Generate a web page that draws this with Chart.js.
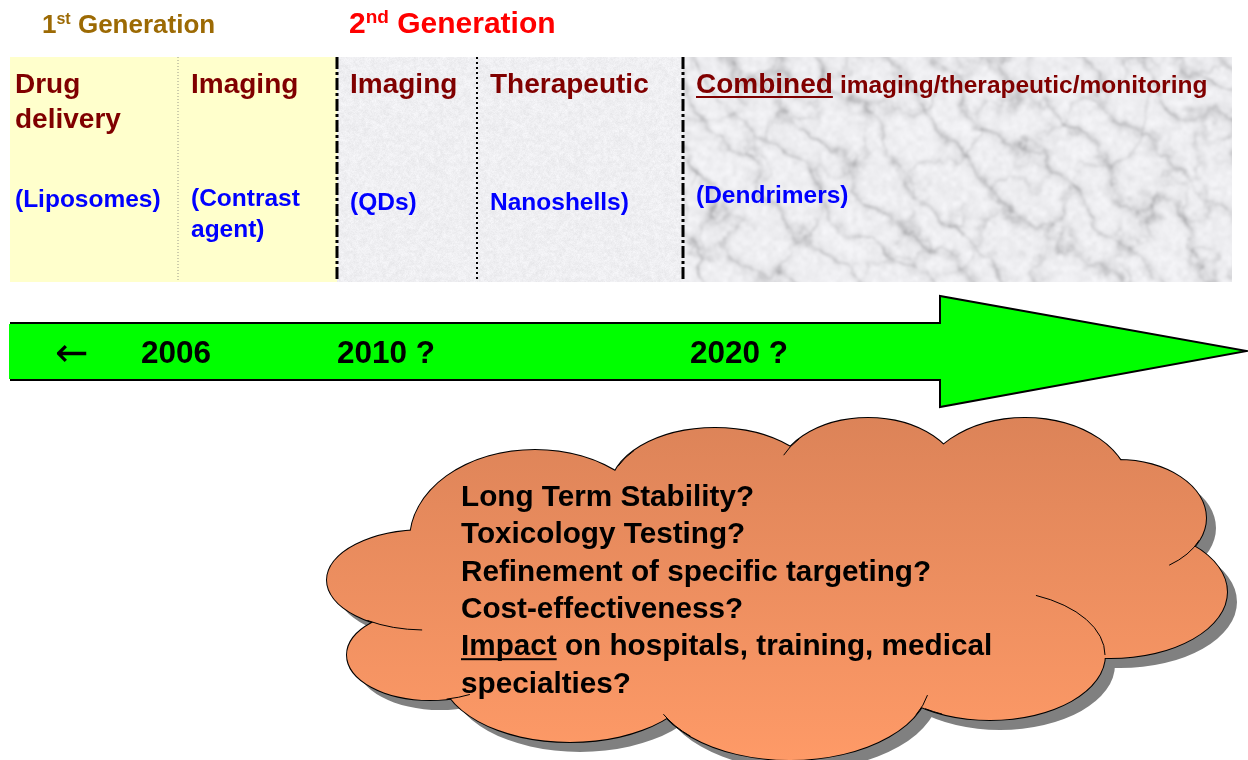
<!DOCTYPE html>
<html>
<head>
<meta charset="utf-8">
<script src="https://cdn.jsdelivr.net/npm/chart.js@4.4.0/dist/chart.umd.min.js"></script>
<style>
  html, body { margin: 0; padding: 0; background: #fff; }
  canvas { display: block; }
</style>
</head>
<body>
<canvas id="timeline" width="1248" height="760"></canvas>
<script>
// ---- data ----
const generations = [['1', 'st'], ['2', 'nd']];
const generationAt = [42, 349];
const stageStart = [10, 178, 337, 477, 683];
const stageEnd = [178, 337, 477, 683, 1232];
const stageTitles = [['Drug', 'delivery'], ['Imaging'], ['Imaging'], ['Therapeutic'], ['Combined']];
const stageExamples = [['(Liposomes)'], ['(Contrast', 'agent)'], ['(QDs)'], ['Nanoshells)'], ['(Dendrimers)']];
const combinedSuffix = 'imaging/therapeutic/monitoring';
const timelineLabels = ['\u2190', '2006', '2010 ?', '2020 ?'];
const timelineAt = [58, 141, 337, 690];
const questions = [
    'Long Term Stability?',
    'Toxicology Testing?',
    'Refinement of specific targeting?',
    'Cost-effectiveness?',
    'Impact on hospitals, training, medical',
    'specialties?'
];

// ---- layout / style ----
const FONT = '"Liberation Sans", Arial, Helvetica, sans-serif';
const panelTop = 57, panelBottom = 282;
const exampleBaseline = [207, 206, 210, 210, 203];
const arrow = { left: 10, top: 323, bottom: 380, headX: 940, headTop: 296, headBottom: 407, tipX: 1247, tipY: 351 };
// cloud lobes: [cx, cy, rx, ry]
const lobes = [
    [535, 540, 125, 90], [715, 490, 105, 62], [868, 480, 92, 62], [1025, 490, 105, 72],
    [1118, 518, 88, 58], [1110, 592, 117, 66], [990, 655, 115, 65], [790, 680, 140, 80],
    [570, 670, 130, 72], [430, 655, 83, 45], [425, 580, 98, 50]
];
const cloudCore = [780, 580, 340, 120];
// little inner arcs of the cloud outline: [lobe index, start angle, end angle]
const innerArcs = [[10, 1.6, 2.2], [9, 1.07, 1.37], [7, 2.36, 2.7], [7, 0.19, 0.45],
    [6, 2.0, 2.17], [6, -1.16, 0], [4, 0.39, 0.95], [2, -2.73, -2.42], [1, -2.75, -2.45]];

function hash(x, y) {
    const h = Math.sin(x * 12.9898 + y * 78.233) * 43758.5453;
    return h - Math.floor(h);
}

function smoothNoise(x, y) {
    const ix = Math.floor(x), iy = Math.floor(y);
    let fx = x - ix, fy = y - iy;
    fx = fx * fx * (3 - 2 * fx);
    fy = fy * fy * (3 - 2 * fy);
    const a = hash(ix, iy), b = hash(ix + 1, iy), c = hash(ix, iy + 1), d = hash(ix + 1, iy + 1);
    return a + (b - a) * fx + (c - a) * fy + (a - b - c + d) * fx * fy;
}

function fbm(x, y) {
    let s = 0, amp = 0.5, f = 1;
    for (let o = 0; o < 5; o++) {
        s += amp * smoothNoise(x * f, y * f);
        amp *= 0.5;
        f *= 2;
    }
    return s;
}

function textureCanvas(w, h, shade) {
    const c = document.createElement('canvas');
    c.width = w; c.height = h;
    const g = c.getContext('2d');
    const img = g.createImageData(w, h);
    for (let y = 0; y < h; y++) {
        for (let x = 0; x < w; x++) {
            const v = Math.max(0, Math.min(255, Math.round(shade(x, y))));
            const i = (y * w + x) * 4;
            img.data[i] = v; img.data[i + 1] = v; img.data[i + 2] = Math.min(255, v + 3); img.data[i + 3] = 255;
        }
    }
    g.putImageData(img, 0, 0);
    return c;
}

const paperShade = (x, y) => 226 + 18 * fbm(x / 3, y / 3) + 8 * hash(x, y);
const marbleShade = (x, y) => {
    const t = (x * 0.7 - y * 0.7) / 45 + 2.2 * fbm(x / 55, y / 55);
    const vein = Math.pow(1 - Math.abs(Math.sin(t * Math.PI)), 3);
    const t2 = (x * 0.8 + y * 0.6) / 70 + 2.0 * fbm(x / 40 + 7, y / 40 + 3);
    const vein2 = Math.pow(1 - Math.abs(Math.sin(t2 * Math.PI)), 4);
    const blot = fbm(x / 9, y / 9);
    return 248 - 70 * vein * blot - 40 * vein2 * blot - 24 * fbm(x / 5, y / 5) + 5 * hash(x, y);
};

function text(ctx, s, x, y, size, color, family, weight) {
    ctx.font = (weight || 'bold') + ' ' + size + 'px ' + (family || FONT);
    ctx.fillStyle = color;
    ctx.fillText(s, x, y);
    return ctx.measureText(s).width;
}

function underline(ctx, x, y, w, color) {
    ctx.fillStyle = color;
    ctx.fillRect(x, y, w, 2);
}

const diagramPlugin = {
    id: 'diagram',
    afterDraw(chart) {
        const ctx = chart.ctx;
        const xs = chart.scales.x, ys = chart.scales.y;
        const px = v => xs.getPixelForValue(v);
        const py = v => ys.getPixelForValue(v);
        ctx.save();
        ctx.textBaseline = 'alphabetic';
        ctx.textAlign = 'left';

        // generation headings
        const genColor = ['#9C6A04', '#FF0000'];
        const genSize = [26, 30];
        generations.forEach((gen, i) => {
            let x = px(generationAt[i]);
            const y = py(33);
            x += text(ctx, gen[0], x, y, genSize[i], genColor[i]);
            x += text(ctx, gen[1], x, y - genSize[i] * 0.33, Math.round(genSize[i] * 0.63), genColor[i]);
            text(ctx, ' Generation', x, y, genSize[i], genColor[i]);
        });

        // stage panels
        const top = py(panelTop), h = py(panelBottom) - py(panelTop);
        stageStart.forEach((s, i) => {
            const x0 = px(s), w = px(stageEnd[i]) - px(s);
            if (i < 2) {
                ctx.fillStyle = '#FFFFCC';
                ctx.fillRect(x0, top, w, h);
            } else {
                const tex = textureCanvas(Math.ceil(w) + 8, Math.ceil(h) + 8, i < 4 ? paperShade : marbleShade);
                ctx.save();
                ctx.beginPath();
                ctx.rect(x0, top, w, h);
                ctx.clip();
                if (i === 4) ctx.filter = 'blur(1.2px)';
                ctx.drawImage(tex, x0 - 4, top - 4);
                ctx.restore();
            }
        });

        // separators
        function vline(x, width, color, dash) {
            ctx.save();
            ctx.strokeStyle = color;
            ctx.lineWidth = width;
            ctx.setLineDash(dash);
            ctx.beginPath();
            ctx.moveTo(px(x), py(panelTop));
            ctx.lineTo(px(x), py(panelBottom));
            ctx.stroke();
            ctx.restore();
        }
        vline(stageEnd[0], 1, '#9a9a8a', [1, 2]);
        vline(stageEnd[1], 3, '#000', [12, 3, 3, 3]);
        vline(stageEnd[2], 2, '#000', [2, 3]);
        vline(stageEnd[3], 3, '#000', [12, 3, 3, 3]);

        // stage titles and examples
        stageTitles.forEach((lines, i) => {
            const x = px(stageStart[i] + (i === 0 ? 5 : 13));
            lines.forEach((l, j) => {
                const w = text(ctx, l, x, py(93 + j * 35), 28, '#800000');
                if (l === 'Combined') {
                    underline(ctx, x, py(96), w, '#800000');
                    text(ctx, combinedSuffix, x + w + 7, py(93), 24.5, '#800000');
                }
            });
            stageExamples[i].forEach((l, j) => {
                text(ctx, l, x, py(exampleBaseline[i] + j * 31), 24.5, '#0000FF');
            });
        });

        // timeline arrow
        ctx.beginPath();
        ctx.moveTo(px(arrow.left), py(arrow.top));
        ctx.lineTo(px(arrow.headX), py(arrow.top));
        ctx.lineTo(px(arrow.headX), py(arrow.headTop));
        ctx.lineTo(px(arrow.tipX), py(arrow.tipY));
        ctx.lineTo(px(arrow.headX), py(arrow.headBottom));
        ctx.lineTo(px(arrow.headX), py(arrow.bottom));
        ctx.lineTo(px(arrow.left), py(arrow.bottom));
        ctx.fillStyle = '#00FF00';
        ctx.fill();
        ctx.strokeStyle = '#000';
        ctx.lineWidth = 2;
        ctx.stroke();
        // cover the left closing edge so the end looks cut off
        ctx.fillStyle = '#00FF00';
        ctx.fillRect(px(arrow.left) - 1, py(arrow.top) + 1, 2, py(arrow.bottom) - py(arrow.top) - 2);
        timelineLabels.forEach((l, i) => {
            if (i === 0) {
                text(ctx, l, px(timelineAt[i]) - 3, py(366), 40, '#000', '"DejaVu Sans", sans-serif', 'normal');
            } else {
                text(ctx, l, px(timelineAt[i]), py(363), 31.5, '#000');
            }
        });

        // cloud
        function lobePath(offX, offY) {
            ctx.beginPath();
            lobes.concat([cloudCore]).forEach(e => {
                const cx = px(e[0]) + offX, cy = py(e[1]) + offY;
                const rx = px(e[0] + e[2]) - px(e[0]), ry = py(e[1] + e[3]) - py(e[1]);
                ctx.moveTo(cx + rx, cy);
                ctx.ellipse(cx, cy, rx, ry, 0, 0, Math.PI * 2);
            });
        }
        lobePath(10, 10);
        ctx.fillStyle = '#808080';
        ctx.fill();
        ctx.strokeStyle = '#000';
        ctx.lineWidth = 2;
        lobes.forEach(e => {
            ctx.beginPath();
            ctx.ellipse(px(e[0]), py(e[1]), px(e[0] + e[2]) - px(e[0]), py(e[1] + e[3]) - py(e[1]), 0, 0, Math.PI * 2);
            ctx.stroke();
        });
        const grad = ctx.createLinearGradient(0, py(415), 0, py(760));
        grad.addColorStop(0, '#DC8358');
        grad.addColorStop(1, '#FE9A67');
        lobePath(0, 0);
        ctx.fillStyle = grad;
        ctx.fill();
        ctx.lineWidth = 1;
        innerArcs.forEach(a => {
            const e = lobes[a[0]];
            ctx.beginPath();
            ctx.ellipse(px(e[0]), py(e[1]), px(e[0] + e[2]) - px(e[0]), py(e[1] + e[3]) - py(e[1]), 0, a[1], a[2]);
            ctx.stroke();
        });

        questions.forEach((q, i) => {
            const y = py(506 + i * 37.3);
            const x = px(461);
            if (q.startsWith('Impact')) {
                const w = text(ctx, 'Impact', x, y, 29.7, '#000');
                underline(ctx, x, y + 3, w, '#000');
                text(ctx, q.slice(6), x + w, y, 29.7, '#000');
            } else {
                text(ctx, q, x, y, 29.7, '#000');
            }
        });
        ctx.restore();
    }
};

new Chart(document.getElementById('timeline'), {
    type: 'scatter',
    data: { datasets: [] },
    options: {
        responsive: false,
        animation: false,
        events: [],
        layout: { padding: 0 },
        plugins: { legend: { display: false }, tooltip: { enabled: false } },
        scales: {
            x: { type: 'linear', min: 0, max: 1248, display: false },
            y: { type: 'linear', min: 0, max: 760, reverse: true, display: false }
        }
    },
    plugins: [diagramPlugin]
});
</script>
</body>
</html>
